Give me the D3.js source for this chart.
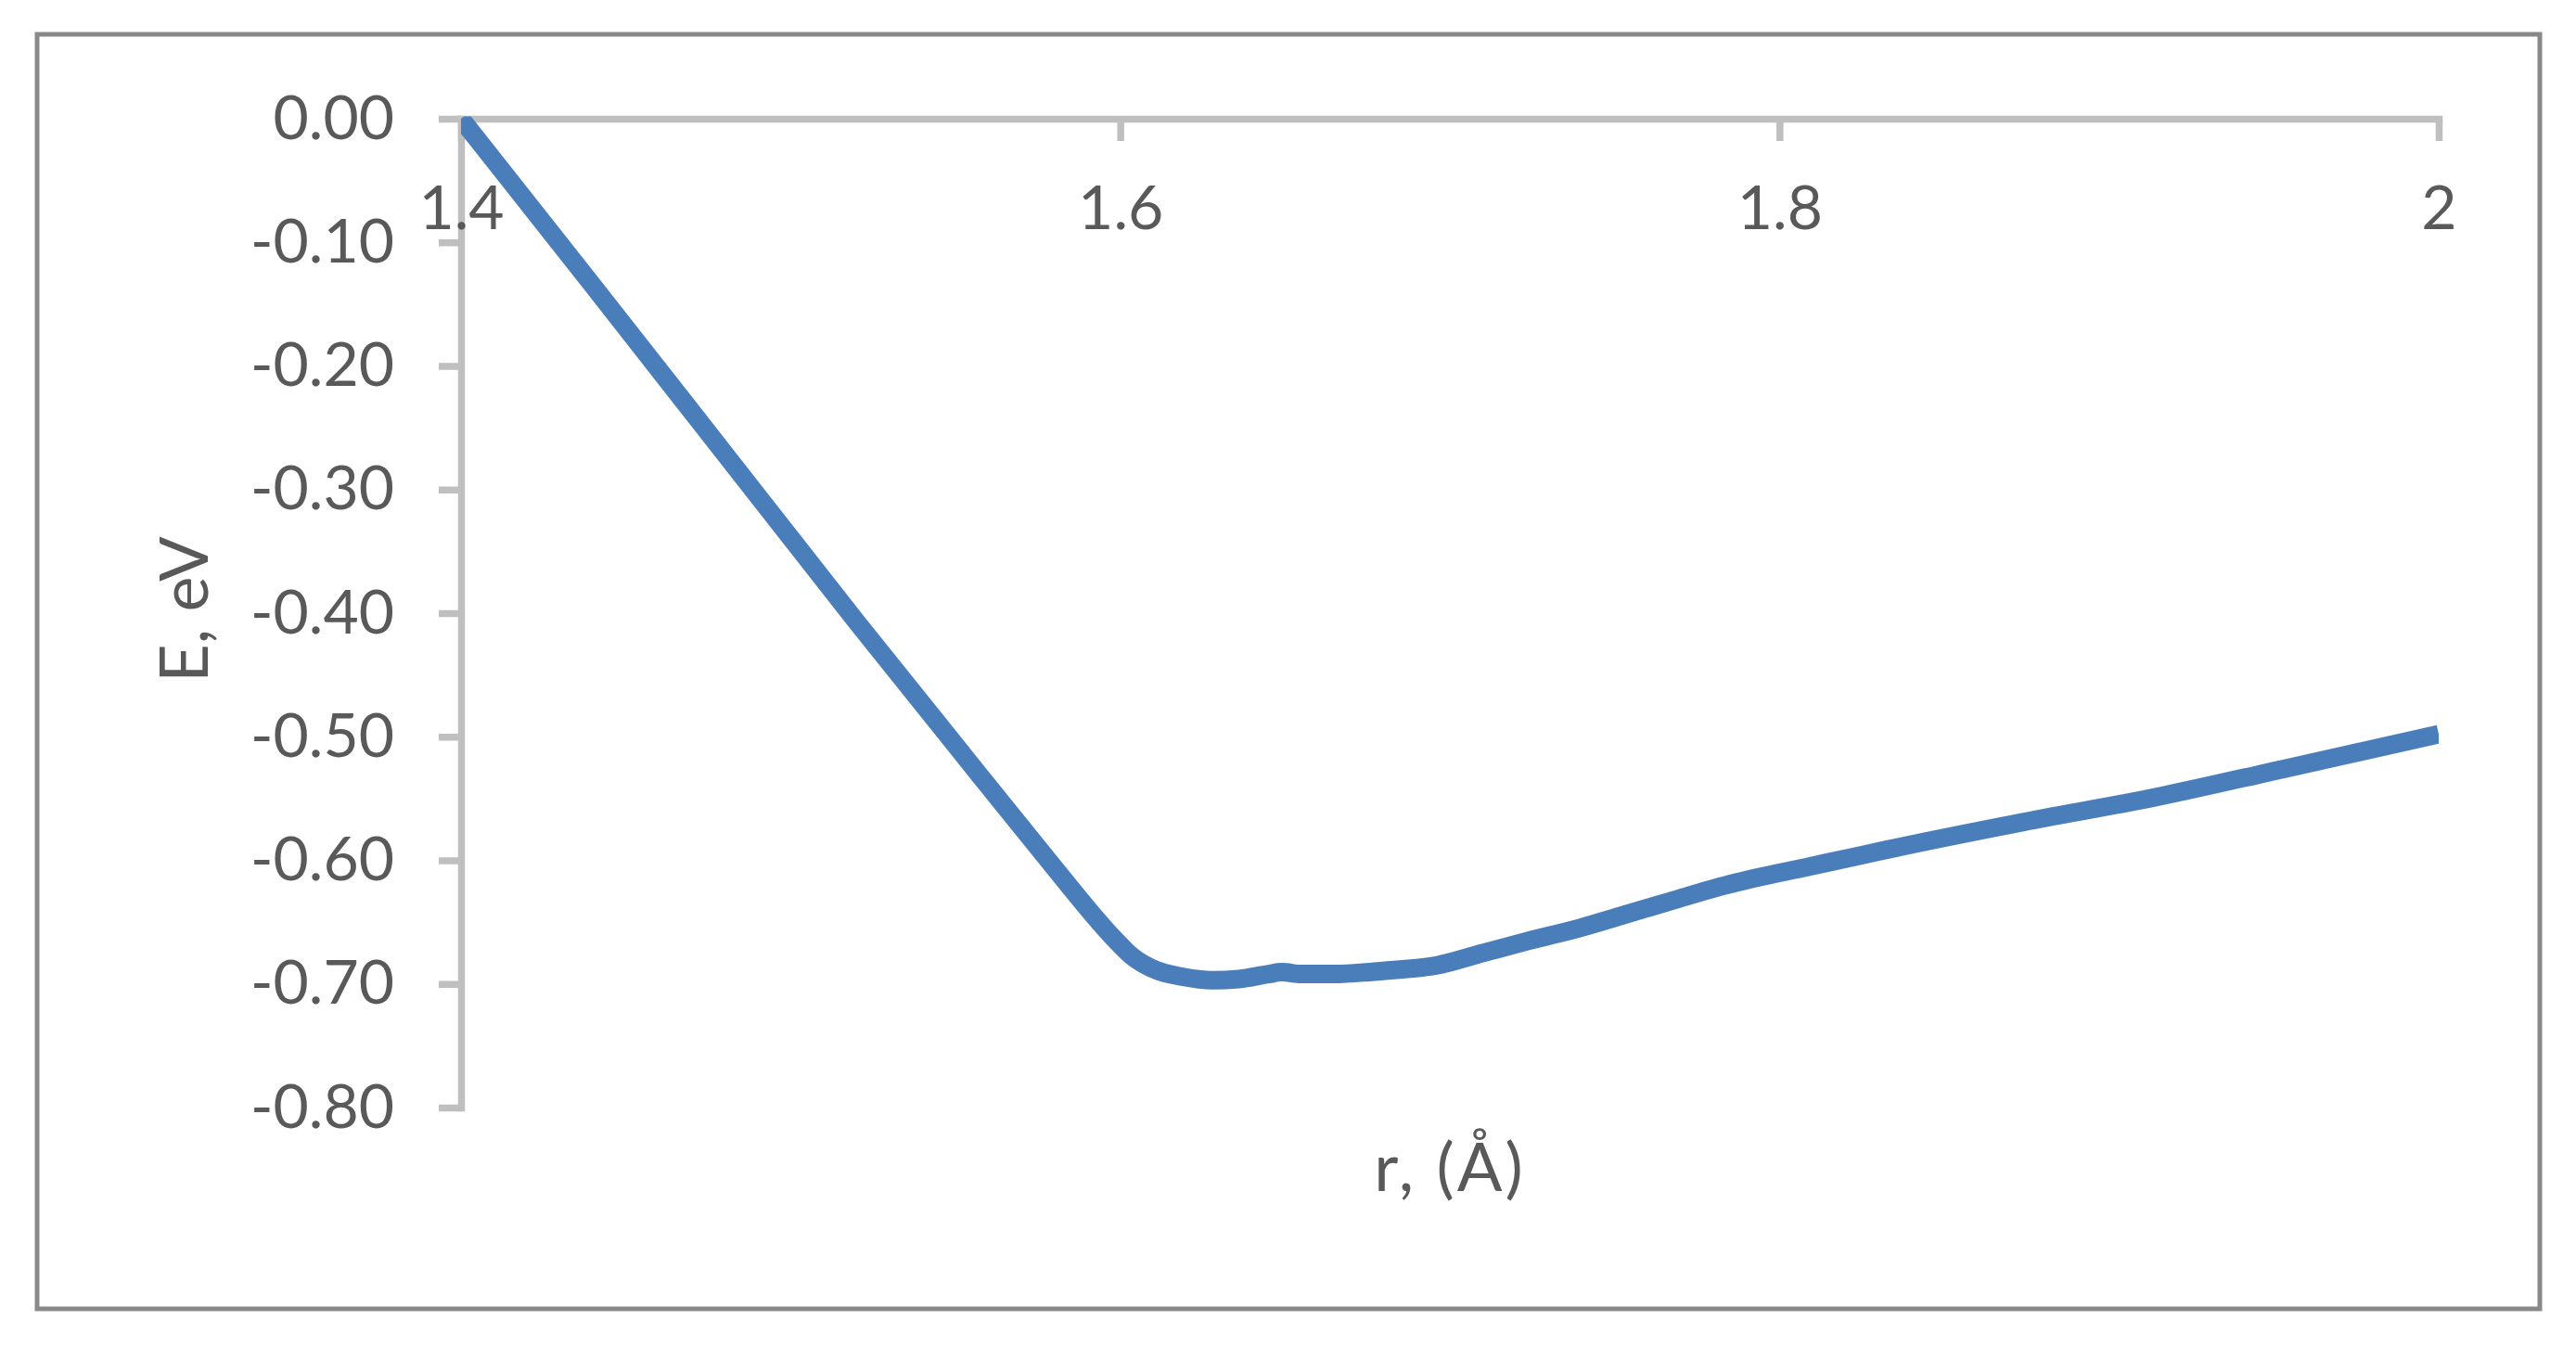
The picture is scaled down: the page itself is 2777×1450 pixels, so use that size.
<!DOCTYPE html>
<html><head><meta charset="utf-8">
<script src="https://cdn.jsdelivr.net/npm/d3@7"></script>
<style>
body{margin:0;background:#fff;}
</style>
</head><body>
<svg id="c" width="2777" height="1450"></svg>
<script>
// ---- data ----
const rValues = [1.400, 1.440, 1.480, 1.520, 1.560, 1.580, 1.592, 1.598, 1.6035, 1.611, 1.6185, 1.628, 1.636, 1.645, 1.649, 1.655, 1.665, 1.677, 1.682, 1.696, 1.710, 1.724, 1.739, 1.753, 1.767, 1.781, 1.795, 1.809, 1.823, 1.835, 1.874, 1.914, 1.953, 2.000];
const eValues = [0.000, -0.135, -0.271, -0.407, -0.540, -0.606, -0.645, -0.663, -0.6775, -0.689, -0.694, -0.697, -0.696, -0.692, -0.6905, -0.692, -0.692, -0.690, -0.689, -0.685, -0.675, -0.665, -0.655, -0.644, -0.633, -0.622, -0.613, -0.605, -0.597, -0.590, -0.569, -0.549, -0.526, -0.498];
const xTickValues = [1.4, 1.6, 1.8, 2.0];
const xTickLabels = ["1.4", "1.6", "1.8", "2"];
const yTickValues = [0, -0.1, -0.2, -0.3, -0.4, -0.5, -0.6, -0.7, -0.8];
const yTickLabels = ["0.00", "-0.10", "-0.20", "-0.30", "-0.40", "-0.50", "-0.60", "-0.70", "-0.80"];
const xTitle = "r, (Å)";
const yTitle = "E, eV";

// ---- layout ----
const FONT = "Lato, 'Open Sans', sans-serif";
const TEXT = "#595959";
const AXIS = "#bfbfbf";
const svg = d3.select("#c");
svg.append("rect").attr("width", 2777).attr("height", 1450).attr("fill", "#fff");
svg.append("rect").attr("x", 40).attr("y", 37).attr("width", 2698).attr("height", 1374)
  .attr("fill", "none").attr("stroke", "#898989").attr("stroke-width", 5);

const x = d3.scaleLinear().domain([1.4, 2.0]).range([497, 2629]);
const y = d3.scaleLinear().domain([-0.8, 0]).range([1194, 128]);

// y axis
const gy = svg.append("g").attr("transform", `translate(${x(1.4)},0)`)
  .call(d3.axisLeft(y).tickValues(yTickValues).tickFormat((d, i) => yTickLabels[i]).tickSize(24).tickSizeOuter(0));
gy.attr("font-family", null).attr("font-size", null);
gy.select(".domain").attr("stroke", AXIS).attr("stroke-width", 7.5).attr("stroke-linecap", "square");
gy.selectAll(".tick line").attr("stroke", AXIS).attr("stroke-width", 7.5);
gy.selectAll(".tick text").attr("x", -72).attr("y", 21).attr("dy", null)
  .attr("font-family", FONT).attr("font-size", 66).attr("fill", TEXT).attr("text-anchor", "end");

// x axis (at E = 0)
const gx = svg.append("g").attr("transform", `translate(0,${y(0)})`)
  .call(d3.axisBottom(x).tickValues(xTickValues).tickFormat((d, i) => xTickLabels[i]).tickSize(24).tickSizeOuter(0));
gx.attr("font-family", null).attr("font-size", null);
gx.select(".domain").attr("stroke", AXIS).attr("stroke-width", 7.5).attr("stroke-linecap", "square");
gx.selectAll(".tick line").attr("stroke", AXIS).attr("stroke-width", 7.5);
gx.selectAll(".tick text").attr("y", 119).attr("dy", null)
  .attr("font-family", FONT).attr("font-size", 66).attr("fill", TEXT).attr("text-anchor", "middle");

// titles
svg.append("text").attr("x", (x.range()[0] + x.range()[1]) / 2).attr("y", 1284)
  .attr("text-anchor", "middle").attr("font-family", FONT).attr("font-size", 72)
  .attr("letter-spacing", 3).attr("fill", TEXT).text(xTitle);
svg.append("text").attr("transform", `translate(224,${(y.range()[0] + y.range()[1]) / 2 - 4}) rotate(-90)`)
  .attr("text-anchor", "middle").attr("font-family", FONT).attr("font-size", 72).attr("fill", TEXT).text(yTitle);

// line
const defs = svg.append("defs");
defs.append("clipPath").attr("id", "plotclip").append("rect")
  .attr("x", x(1.4)).attr("y", y(0) - 2.5).attr("width", x(2.0) - x(1.4)).attr("height", y(-0.8) - y(0) + 20);
const data = rValues.map((r, i) => [r, eValues[i]]);
svg.append("path").datum(data).attr("clip-path", "url(#plotclip)")
  .attr("fill", "none").attr("stroke", "#4a7ebb").attr("stroke-width", 20)
  .attr("stroke-linejoin", "round").attr("stroke-linecap", "butt")
  .attr("d", d3.line().x(d => x(d[0])).y(d => y(d[1])).curve(d3.curveMonotoneX));
</script>
</body></html>
